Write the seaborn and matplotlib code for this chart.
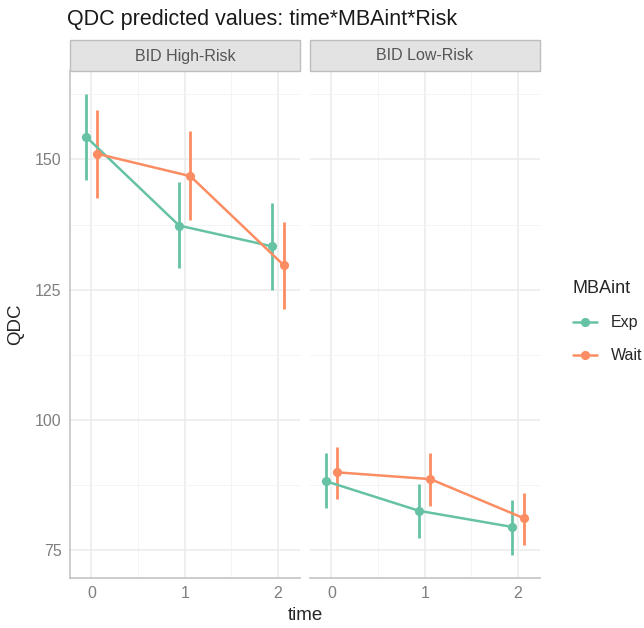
import matplotlib
matplotlib.use("Agg")
import matplotlib.pyplot as plt
from matplotlib.patches import Rectangle
from matplotlib.lines import Line2D
import numpy as np
import pandas as pd
import seaborn as sns

# ---- data: predicted QDC with 95% intervals ----
times = [0, 1, 2]
risk_levels = ["BID High-Risk", "BID Low-Risk"]
groups = ["Exp", "Wait"]

high_exp = [154.4, 137.3, 133.3]
high_exp_lo = [146.1, 129.1, 125.0]
high_exp_hi = [162.6, 145.7, 141.6]

high_wait = [151.1, 146.8, 129.7]
high_wait_lo = [142.6, 138.4, 121.2]
high_wait_hi = [159.6, 155.4, 138.0]

low_exp = [88.2, 82.5, 79.4]
low_exp_lo = [83.1, 77.2, 74.0]
low_exp_hi = [93.6, 87.7, 84.6]

low_wait = [89.9, 88.6, 81.1]
low_wait_lo = [84.7, 83.5, 76.0]
low_wait_hi = [94.8, 93.7, 85.9]

y_ticks = [75, 100, 125, 150]
x_ticks = [0, 1, 2]

series = {
    ("BID High-Risk", "Exp"): (high_exp, high_exp_lo, high_exp_hi),
    ("BID High-Risk", "Wait"): (high_wait, high_wait_lo, high_wait_hi),
    ("BID Low-Risk", "Exp"): (low_exp, low_exp_lo, low_exp_hi),
    ("BID Low-Risk", "Wait"): (low_wait, low_wait_lo, low_wait_hi),
}

dodge = {"Exp": -0.06, "Wait": 0.06}
rows = []
for (risk, grp), (est, lo, hi) in series.items():
    for t, e, l, h in zip(times, est, lo, hi):
        rows.append(dict(Risk=risk, MBAint=grp, time=t, x=t + dodge[grp],
                         QDC=e, lo=l, hi=h))
df = pd.DataFrame(rows)

palette = {"Exp": "#66C2A5", "Wait": "#FC8D62"}

sns.set_theme(style="white")
plt.rcParams["font.family"] = ["Liberation Sans", "DejaVu Sans"]

W, H = 644, 628
fig = plt.figure(figsize=(W / 100, H / 100), dpi=100)


def fx(px):
    return px / W


def fy(py):
    return 1 - py / H


panel_top, panel_bot = 71, 578
panels = [(70, 300), (310, 540)]
grid_major = "#EBEBEB"
grid_minor = "#F4F4F4"
axis_col = "#C4C4C4"
tick_col = "#7F7F7F"
msize = 6.6

for i, (risk, (x0, x1)) in enumerate(zip(risk_levels, panels)):
    ax = fig.add_axes([fx(x0), fy(panel_bot), fx(x1 - x0), (panel_bot - panel_top) / H])
    sub = df[df.Risk == risk]
    for grp in groups:
        g = sub[sub.MBAint == grp]
        ax.vlines(g.x, g.lo, g.hi, colors=palette[grp], linewidth=2.0, zorder=3)
    sns.lineplot(data=sub, x="x", y="QDC", hue="MBAint", hue_order=groups,
                 palette=palette, marker="o", markersize=msize, markeredgewidth=0,
                 linewidth=1.8, legend=False, ax=ax, zorder=4, sort=True)

    ax.set_xlim(-0.23, 2.235)
    ax.set_ylim(69.6, 167.0)
    ax.set_xticks(x_ticks)
    ax.set_xticks([0.5, 1.5], minor=True)
    ax.set_yticks(y_ticks)
    ax.set_yticks([87.5, 112.5, 137.5, 162.5], minor=True)
    ax.grid(which="major", color=grid_major, linewidth=1.1, zorder=0)
    ax.grid(which="minor", color=grid_minor, linewidth=0.7, zorder=0)
    ax.set_axisbelow(True)
    ax.tick_params(which="both", length=0, labelsize=11.5, labelcolor=tick_col, pad=6)
    ax.set_xlabel("")
    ax.set_ylabel("")
    for s in ["top", "right"]:
        ax.spines[s].set_visible(False)
    ax.spines["bottom"].set_color(axis_col)
    ax.spines["bottom"].set_linewidth(1.2)
    if i == 0:
        ax.spines["left"].set_color(axis_col)
        ax.spines["left"].set_linewidth(1.2)
    else:
        ax.spines["left"].set_visible(False)
        ax.set_yticklabels([])

    # facet strip
    strip = Rectangle((fx(x0), fy(71)), fx(x1 - x0), (71 - 40) / H,
                      transform=fig.transFigure, facecolor="#E3E3E3",
                      edgecolor="#BDBDBD", linewidth=1.0)
    fig.patches.append(strip)
    fig.text(fx((x0 + x1) / 2), fy(56), risk, ha="center", va="center",
             fontsize=11.5, color="#555555")

fig.text(fx(67), fy(25), "QDC predicted values: time*MBAint*Risk",
         ha="left", va="baseline", fontsize=15.5, color="#1A1A1A")
fig.text(fx(16), fy(324), "QDC", rotation=90, ha="center", va="center",
         fontsize=13.5, color="#262626")
fig.text(fx(305), fy(616), "time", ha="center", va="center",
         fontsize=13.5, color="#262626")

# legend
fig.text(fx(572), fy(289), "MBAint", ha="left", va="center",
         fontsize=13, color="#262626")
for grp, yy in zip(groups, [322, 355]):
    fig.lines.append(Line2D([fx(573), fx(597)], [fy(yy), fy(yy)],
                            transform=fig.transFigure, color=palette[grp],
                            linewidth=1.8))
    fig.lines.append(Line2D([fx(585)], [fy(yy)], transform=fig.transFigure,
                            color=palette[grp], marker="o", markersize=msize,
                            markeredgewidth=0))
    fig.text(fx(611), fy(yy), grp, ha="left", va="center",
             fontsize=11.5, color="#262626")

fig.savefig("out.png", dpi=100)
